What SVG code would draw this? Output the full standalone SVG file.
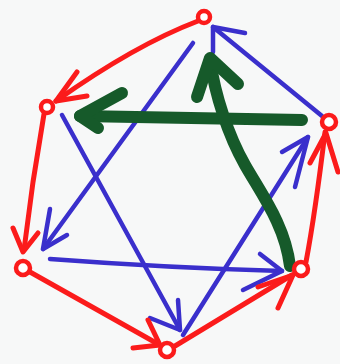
<svg xmlns="http://www.w3.org/2000/svg" width="340" height="364" viewBox="0 0 340 364">
<style>
.r{fill:none;stroke:#fb1b1b;stroke-width:5;stroke-linecap:round;stroke-linejoin:round}
.b{fill:none;stroke:#3a2fcc;stroke-width:4.5;stroke-linecap:round;stroke-linejoin:round}
.g{fill:none;stroke:#165a2a;stroke-width:12;stroke-linecap:round;stroke-linejoin:round}
.n{fill:#ffffff;stroke:#fb1b1b;stroke-width:4.5}
</style>
<rect width="340" height="364" fill="#f7f8f8"/>
<g id="connectors">
<path class="b" d="M322,116 L213,27"/><path class="b" d="M245,33 L213,27 L213,52"/>
<path class="b" d="M193,43 L43,249"/><path class="b" d="M50,209 L43,249 L67,235"/>
<path class="b" d="M62,115 L180,330"/><path class="b" d="M150,318 L180,330 L178,300"/>
<path class="b" d="M50,259 Q170,268 282,271"/><path class="b" d="M260,254 L282,271 L243,290"/>
<path class="b" d="M183,335 L308,137"/><path class="b" d="M282,152 L308,137 L295,187"/>
<path class="r" d="M198,21 Q135,45 56,101"/><path class="r" d="M77,72 L56,101 L87,96"/>
<path class="r" d="M44,114 L33,182 L24,250"/><path class="r" d="M13,228 L23,252 L38,233"/>
<path class="r" d="M30,272 L158,344"/><path class="r" d="M148,320 L160,345 L133,348"/>
<path class="r" d="M175,346 L292,275"/><path class="r" d="M258,287 L293,275 L278,308"/>
<path class="r" d="M306,262 C312,230 318,190 325,132"/><path class="r" d="M310,163 L326,133 L338,172"/>
<path class="g" d="M302,120 L80,116"/><path class="g" d="M122,93 L80,116 L98,128"/>
<path class="g" d="M290,266 C285,225 262,195 245,165 S215,95 210,60"/><path class="g" d="M197,97 L210,58 L238,84"/>
</g>
<g id="node-top"><circle class="n" cx="204" cy="17" r="6"/></g>
<g id="node-upper-left"><circle class="n" cx="47" cy="107" r="6"/></g>
<g id="node-right"><circle class="n" cx="329" cy="122" r="7"/></g>
<g id="node-lower-left"><circle class="n" cx="23" cy="268" r="7"/></g>
<g id="node-lower-right"><circle class="n" cx="301" cy="269" r="7"/></g>
<g id="node-bottom"><circle class="n" cx="167" cy="350" r="7"/></g>
</svg>
